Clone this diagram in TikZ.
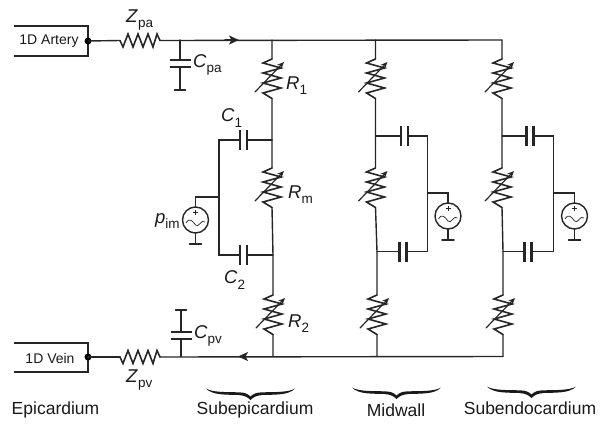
\documentclass[tikz,border=0pt]{standalone}
\usepackage{fontspec}
\setmainfont{Liberation Sans}
\usetikzlibrary{arrows.meta}
\newcommand{\lab}[2]{\textit{#1}\raisebox{-0.28em}{\fontsize{13.5}{13.5}\selectfont #2}}
\tikzset{
  wire/.style={line width=1.4pt,draw=black!85,line cap=round,line join=miter},
  box/.style={line width=1.4pt,draw=black!85},
  txt/.style={inner sep=0pt,font=\fontsize{17.5}{18}\selectfont,text=black!90},
  sym/.style={inner sep=0pt,anchor=west,font=\fontsize{18.5}{18}\selectfont,text=black!90},
  inbox/.style={inner sep=0pt,font=\fontsize{14}{15}\selectfont,text=black!90},
  tip/.style={-{Stealth[length=10pt,width=9pt,inset=2.5pt]}},
  pics/vres/.style={code={
    \draw[wire,line width=1.6pt] (0,-20)--(-9,-16)--(9,-11)--(-9,-6)--(9,-1)--(-9,4)--(9,9)--(-9,14)--(0,19.5);
    \draw[wire,line width=1.2pt,-{Stealth[length=7pt,width=6pt]}] (-17,13)--(12,-17);
    \coordinate (-t) at (0,-20);
    \coordinate (-b) at (0,19.5);
  }},
  pics/hres/.style={code={
    \draw[wire,line width=1.6pt] (-20,0)--(-17,6.5)--(-12,-6.5)--(-7,6.5)--(-2,-6.5)--(3,6.5)--(8,-6.5)--(13,6.5)--(17,-6.5)--(20,0);
    \coordinate (-l) at (-20,0);
    \coordinate (-r) at (20,0);
  }},
  pics/hcap/.style={code={
    \draw[wire,line width=2.2pt,line cap=butt] (-3.5,-10)--(-3.5,10) (3.5,-10)--(3.5,10);
    \coordinate (-l) at (-3.5,0);
    \coordinate (-r) at (3.5,0);
  }},
  pics/vcap/.style={code={
    \draw[wire,line width=2.2pt,line cap=butt] (-10.5,-3.5)--(10.5,-3.5) (-10.5,3.5)--(10.5,3.5);
    \coordinate (-t) at (0,-3.5);
    \coordinate (-b) at (0,3.5);
  }},
  pics/src/.style={code={
    \draw[wire] (0,0) circle (13);
    \draw[line width=.7pt,draw=black!85] (-9.5,3) .. controls (-6,-3) and (-3,1) .. (0,5) .. controls (3,9) and (6,-2) .. (9.5,2);
    \draw[line width=.8pt,draw=black!85] (-2.5,-7.5)--(2.5,-7.5) (0,-10)--(0,-5);
    \coordinate (-t) at (0,-13);
    \coordinate (-b) at (0,13);
  }},
  pics/brace/.style={code={
    \fill[black!90] (-44.5,-10.5) .. controls (-38,-3.5) and (-24,-4.5) .. (-12,-4) .. controls (-6,-3.5) and (-3,-2) .. (0,1)
      .. controls (3,-2) and (6,-3.5) .. (12,-4) .. controls (24,-4.5) and (38,-3.5) .. (44.5,-10.5)
      .. controls (38,-6.5) and (24,-7) .. (12,-6.7) .. controls (6,-6.5) and (3,-5.5) .. (0,-2.5)
      .. controls (-3,-5.5) and (-6,-6.5) .. (-12,-6.7) .. controls (-24,-7) and (-38,-6.5) .. (-44.5,-10.5) -- cycle;
  }},
}
\begin{document}
\begin{tikzpicture}[x=1pt,y=-1pt]
\useasboundingbox (0,0) rectangle (607,423);
% boxes
\draw[box] (14,26)--(88,26)--(88,56)--(14,56);
\draw[box] (14,343)--(88,343)--(88,372)--(14,372);
\node[inbox] (art) at (49,41) {1D Artery};
\node[inbox] (vein) at (50,358) {1D Vein};
\coordinate (adot) at (88,41);
\coordinate (vdot) at (88,357);
\fill[black] (adot) circle (3.5);
\fill[black] (vdot) circle (3.5);
% series impedances
\pic (zpa) at (140,40.5) {hres};
\pic (zpv) at (140,357) {hres};
\draw[wire] (adot)--(zpa-l);
\draw[wire] (vdot)--(zpv-l);
% rails
\coordinate (rt) at (502,40);
\coordinate (rb) at (503,356.5);
\draw[wire] (zpa-r)--(rt);
\draw[wire] (zpv-r)--(rb);
\coordinate (atip) at (239,40);
\coordinate (btip) at (238,356.5);
\draw[wire,tip] (225,40)--(atip);
\draw[wire,tip] (255,356.5)--(btip);
% Cpa / Cpv
\coordinate (cpatop) at (180,40);
\pic (cpa) at (180,63.5) {vcap};
\coordinate (gpa) at (180,90);
\draw[wire] (cpatop)--(cpa-t) (cpa-b)--(gpa) (174.5,90)--(185.5,90);
\coordinate (cpvbot) at (181,356.5);
\pic (cpv) at (181,335.5) {vcap};
\coordinate (gpv) at (181,310);
\draw[wire] (cpvbot)--(cpv-b) (cpv-t)--(gpv) (175.5,310)--(186.5,310);
% columns
\foreach \n/\x/\xb/\xs/\yy/\yb/\yc/\cc/\cd/\near/\far/\xbus in {a/272/273/195.5/140/197/255/243.5/243.5/r/l/219, b/375.5/377/448/136/193/251.5/404.5/403/l/r/427.5, c/502/503/574.5/136/193/251.5/530/528/l/r/553.5}{
  \pic (r1\n) at (\x,79) {vres};
  \pic (rm\n) at (\x,188) {vres};
  \pic (r2\n) at (\xb,315) {vres};
  \coordinate (top\n) at (\x,40);
  \coordinate (bot\n) at (\xb,356.5);
  \coordinate (j1\n) at (\x,\yy);
  \coordinate (j2\n) at (\xb,\yc);
  \pic (c1\n) at (\cc,\yy) {hcap};
  \pic (c2\n) at (\cd,\yc) {hcap};
  \draw[wire] (top\n)--(r1\n-t) (r1\n-b)--(j1\n)--(rm\n-t) (rm\n-b)--(j2\n)--(r2\n-t) (r2\n-b)--(bot\n);
  \draw[wire] (j1\n)--(c1\n-\near);
  \draw[wire] (j2\n)--(c2\n-\near);
  \coordinate (b1\n) at (\xbus,\yy);
  \coordinate (b2\n) at (\xbus,\yc);
  \coordinate (bm\n) at (\xbus,\yb);
  \coordinate (sq\n) at (\xs,\yb);
  \draw[wire] (c1\n-\far)--(b1\n)--(b2\n)--(c2\n-\far);
  \pic (s\n) at (\xs,\yb+23) {src};
  \coordinate (g\n) at (\xs,\yb+47);
  \draw[wire] (bm\n)--(sq\n)--(s\n-t);
  \draw[wire] (s\n-b)--(g\n) (\xs-6,\yb+47)--(\xs+6,\yb+47);
}
% labels
\node[sym] (lzpa) at (126,20) {\lab{Z}{pa}};
\node[sym] (lcpa) at (193,65) {\lab{C}{pa}};
\node[sym] (lr1) at (286,86) {\lab{R}{1}};
\node[sym] (lc1) at (221,118) {\lab{C}{1}};
\node[sym] (lrm) at (288,195) {\lab{R}{m}};
\node[sym] (lpim) at (155,221) {\lab{p}{im}};
\node[sym] (lc2) at (224,280) {\lab{C}{2}};
\node[sym] (lr2) at (288,324) {\lab{R}{2}};
\node[sym] (lcpv) at (194,336) {\lab{C}{pv}};
\node[sym] (lzpv) at (126,380) {\lab{Z}{pv}};
% braces
\pic (ba) at (250.5,399) {brace};
\pic (bb) at (396.5,398) {brace};
\pic (bc) at (531.5,397) {brace};
\node[txt] (t0) at (55.5,410) {Epicardium};
\node[txt] (t1) at (255,410) {Subepicardium};
\node[txt] (t2) at (396,410) {Midwall};
\node[txt] (t3) at (530,408) {Subendocardium};
\end{tikzpicture}
\end{document}
